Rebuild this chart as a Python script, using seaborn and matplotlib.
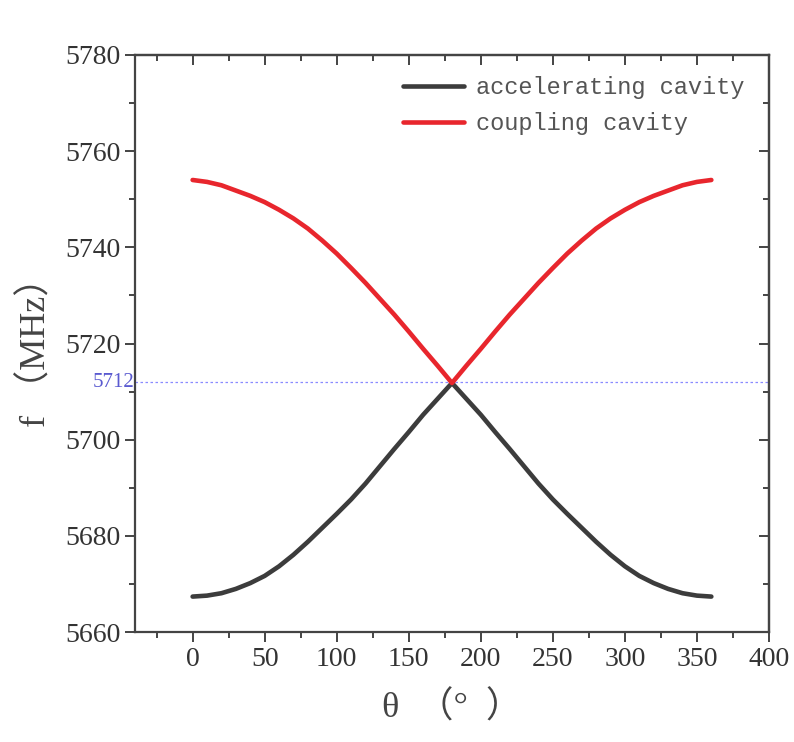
import numpy as np
import pandas as pd
import seaborn as sns
import matplotlib.pyplot as plt
from matplotlib.ticker import MultipleLocator

# phase advance (deg)
theta = [0, 10, 20, 30, 40, 50, 60, 70, 80, 90, 100, 110, 120,
         130, 140, 150, 160, 170, 180, 190, 200, 210, 220, 230, 240,
         250, 260, 270, 280, 290, 300, 310, 320, 330, 340, 350, 360]

# frequencies (MHz)
f_acc = [5667.4, 5667.6, 5668.1, 5669.0, 5670.2, 5671.7, 5673.7, 5676.1,
         5678.8, 5681.7, 5684.6, 5687.6, 5690.9, 5694.5, 5698.1, 5701.6,
         5705.2, 5708.5, 5711.8, 5708.5, 5705.2, 5701.6, 5698.1, 5694.5,
         5690.9, 5687.6, 5684.6, 5681.7, 5678.8, 5676.1, 5673.7, 5671.7,
         5670.2, 5669.0, 5668.1, 5667.6, 5667.4]
f_cpl = [5754.0, 5753.6, 5752.9, 5751.8, 5750.7, 5749.4, 5747.8, 5746.0,
         5743.9, 5741.4, 5738.7, 5735.7, 5732.6, 5729.3, 5726.0, 5722.5,
         5718.9, 5715.4, 5711.8, 5715.4, 5718.9, 5722.5, 5726.0, 5729.3,
         5732.6, 5735.7, 5738.7, 5741.4, 5743.9, 5746.0, 5747.8, 5749.4,
         5750.7, 5751.8, 5752.9, 5753.6, 5754.0]

series_names = ["accelerating cavity", "coupling cavity"]
series_colors = ["#3c3c3c", "#e8262d"]
f_cross = 5712

df = pd.concat([
    pd.DataFrame({"theta": theta, "f": f_acc, "cavity": series_names[0]}),
    pd.DataFrame({"theta": theta, "f": f_cpl, "cavity": series_names[1]}),
])

sns.set_style("ticks")
plt.rcParams["font.family"] = ["Liberation Serif", "Noto Sans CJK SC", "DejaVu Sans"]

fig = plt.figure(figsize=(7.94, 7.42), dpi=100)
ax = fig.add_axes([0.170, 0.148, 0.7985, 0.778])

sns.lineplot(data=df, x="theta", y="f", hue="cavity",
             palette=dict(zip(series_names, series_colors)),
             linewidth=3.3, ax=ax, sort=False, estimator=None)

ax.axhline(f_cross, color="#8a8aff", linestyle=(0, (2, 2)), linewidth=0.9, zorder=0)
ax.text(-40.5, f_cross, str(f_cross), color="#5a5ad0", fontsize=15,
        ha="right", va="center")

ax.set_xlim(-40, 400)
ax.set_ylim(5660, 5780)
ax.set_xticks(range(0, 401, 50))
ax.xaxis.set_minor_locator(MultipleLocator(25))
ax.yaxis.set_major_locator(MultipleLocator(20))
ax.yaxis.set_minor_locator(MultipleLocator(10))

edge = "#444444"
for s in ax.spines.values():
    s.set_color(edge)
    s.set_linewidth(1.6)
ax.tick_params(which="both", color=edge, width=1.4, labelcolor="#333333",
               labelsize=20, direction="out")
ax.tick_params(which="major", length=7)
ax.tick_params(which="minor", length=4)

# mirrored ticks on top and right, pointing inward
top = ax.secondary_xaxis("top")
top.set_xticks(range(0, 401, 50))
top.xaxis.set_minor_locator(MultipleLocator(25))
right = ax.secondary_yaxis("right")
right.yaxis.set_major_locator(MultipleLocator(20))
right.yaxis.set_minor_locator(MultipleLocator(10))
for sec in (top, right):
    sec.tick_params(which="both", direction="in", color=edge, width=1.4,
                    labeltop=False, labelright=False)
    sec.tick_params(which="major", length=7)
    sec.tick_params(which="minor", length=4)
    for s in sec.spines.values():
        s.set_color(edge)
        s.set_linewidth(1.6)

ax.set_xlabel("θ  （°  ）", fontsize=26, color="#444444", labelpad=14)
ax.set_ylabel("f （MHz）", fontsize=26, color="#444444", labelpad=8)

leg = ax.legend(loc="upper right", frameon=False, handlelength=2.6,
                prop={"family": "Liberation Mono", "size": 17},
                bbox_to_anchor=(0.995, 1.0), labelspacing=0.55,
                handletextpad=0.5)
for txt in leg.get_texts():
    txt.set_color("#555555")

fig.savefig("out.png", dpi=100)
